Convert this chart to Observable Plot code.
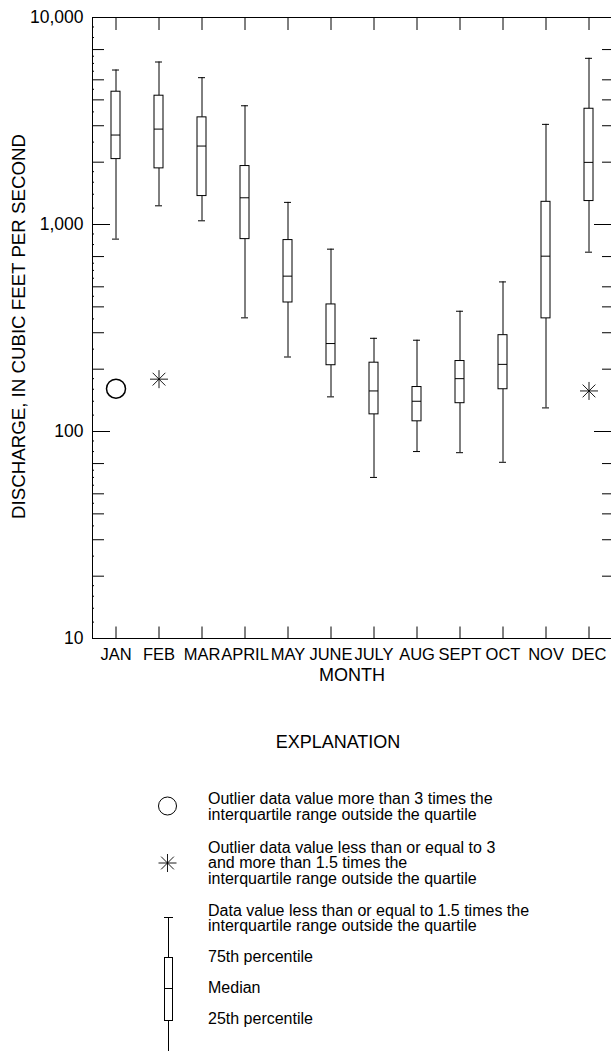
<!DOCTYPE html>
<html><head><meta charset="utf-8">
<script src="https://cdn.jsdelivr.net/npm/d3@7"></script>
<script src="https://cdn.jsdelivr.net/npm/@observablehq/plot@0.6"></script>
<style>
html,body{margin:0;padding:0;background:#fff;}
#chart svg,#legend svg{display:block}
</style></head><body><div id="chart"></div><div id="legend"></div><script>
const FONT = "'Liberation Sans', Arial, Helvetica, sans-serif";

// Monthly discharge statistics (cubic feet per second)
const months      = ["JAN","FEB","MAR","APRIL","MAY","JUNE","JULY","AUG","SEPT","OCT","NOV","DEC"];
const whiskerLow  = [850, 1231, 1042, 354, 229, 147,  60,  80,  79,  71, 130,  735];
const quartile1   = [2070,1867, 1372, 850, 420, 209, 121, 112, 137, 160, 352, 1298];
const medians     = [2705,2890, 2393,1346, 563, 266, 157, 140, 180, 211, 703, 1996];
const quartile3   = [4380,4190, 3293,1916, 841, 411, 215, 164, 219, 292,1287, 3624];
const whiskerHigh = [5575,6095, 5120,3746,1279, 760, 282, 276, 381, 528,3046, 6350];

// Outliers
const extremeMonths = ["JAN"];
const extremeValues = [161];
const mildMonths = ["FEB", "DEC"];
const mildValues = [179, 157];

// Axis ticks
const yMajorTicks = [10, 100, 1000, 10000];
const yMinorTicks = [20,30,40,50,70, 200,300,400,500,700, 2000,3000,4000,5000,7000];
const yTinyTicks = [12,14,16,18,25,35,45,55,60,65,80,90,
                    120,140,160,180,250,350,450,550,600,650,800,900,
                    1200,1400,1600,1800,2500,3500,4500,5500,6000,6500,8000,9000];

const data = months.map((m, i) => ({month: m, low: whiskerLow[i], q1: quartile1[i], median: medians[i], q3: quartile3[i], high: whiskerHigh[i]}));
const extreme = extremeMonths.map((m, i) => ({month: m, value: extremeValues[i]}));
const mild = mildMonths.map((m, i) => ({month: m, value: mildValues[i]}));

const star = {
  draw(ctx, size) {
    const r = Math.sqrt(size / Math.PI);
    for (let k = 0; k < 4; k++) {
      const a = k * Math.PI / 4, dx = r * Math.cos(a), dy = r * Math.sin(a);
      ctx.moveTo(-dx, -dy); ctx.lineTo(dx, dy);
    }
  }
};

const chart = Plot.plot({
  width: 611, height: 700,
  marginLeft: 92, marginRight: 0, marginTop: 17, marginBottom: 62,
  style: {fontFamily: FONT, fontSize: "16px", color: "black", background: "white"},
  x: {type: "band", domain: months, range: [92, 612], padding: 0},
  y: {type: "log", domain: [10, 10000]},
  marks: [
    Plot.axisY(yMajorTicks, {anchor: "left", tickSize: -18, fill: "none", label: null}),
    Plot.axisY(yMinorTicks, {anchor: "left", tickSize: -12, fill: "none", label: null}),
    Plot.axisY(yTinyTicks, {anchor: "left", tickSize: -2, fill: "none", label: null}),
    Plot.axisY(yMajorTicks, {anchor: "left", tickSize: 0, tickPadding: 9, tickFormat: d3.format(","), fontSize: 17.5, label: null}),
    Plot.axisY(yMajorTicks, {anchor: "right", tickSize: -18, fill: "none", label: null}),
    Plot.axisY(yMinorTicks, {anchor: "right", tickSize: -10, fill: "none", label: null}),
    Plot.axisX({anchor: "top", tickSize: -12, fill: "none", label: null}),
    Plot.axisX({anchor: "bottom", tickSize: -11.5, fill: "none", label: null}),
    Plot.axisX({anchor: "bottom", tickSize: 0, tickPadding: 9.5, fontSize: 16.5, label: null}),
    Plot.frame({anchor: "left"}),
    Plot.frame({anchor: "top"}),
    Plot.frame({anchor: "bottom"}),
    Plot.text(["MONTH"], {frameAnchor: "bottom", lineAnchor: "middle", textAnchor: "middle", dy: 37, fontSize: 18}),
    Plot.text(["DISCHARGE, IN CUBIC FEET PER SECOND"], {frameAnchor: "left", textAnchor: "middle", lineAnchor: "middle", rotate: -90, dx: -73, dy: -1.5, fontSize: 18.7}),
    Plot.ruleX(data, {x: "month", y1: "low", y2: "q1", stroke: "black"}),
    Plot.ruleX(data, {x: "month", y1: "q3", y2: "high", stroke: "black"}),
    Plot.tickY(data, {x: "month", y: "low", inset: 18, stroke: "black"}),
    Plot.tickY(data, {x: "month", y: "high", inset: 18, stroke: "black"}),
    Plot.barY(data, {x: "month", y1: "q1", y2: "q3", insetLeft: 17, insetRight: 17, fill: "white", stroke: "black"}),
    Plot.tickY(data, {x: "month", y: "median", inset: 17, stroke: "black"}),
    Plot.dot(extreme, {x: "month", y: "value", r: 9.5, fill: "none", stroke: "black"}),
    Plot.dot(mild, {x: "month", y: "value", r: 9, symbol: star, fill: "none", stroke: "black", strokeWidth: 0.9})
  ]
});
document.getElementById("chart").append(chart);

// Explanation (legend)
const OFF = 700;
const leg = d3.create("svg").attr("width", 611).attr("height", 351)
  .style("font-family", FONT).style("background", "white");
leg.append("text").attr("x", 338).attr("y", 748 - OFF).attr("text-anchor", "middle")
  .attr("font-size", 18).text("EXPLANATION");
const lines = [
  [804, "Outlier data value more than 3 times the"],
  [820, "interquartile range outside the quartile"],
  [853, "Outlier data value less than or equal to 3"],
  [868, "and more than 1.5 times the"],
  [884, "interquartile range outside the quartile"],
  [916, "Data value less than or equal to 1.5 times the"],
  [931, "interquartile range outside the quartile"],
  [962, "75th percentile"],
  [993, "Median"],
  [1024, "25th percentile"]
];
leg.selectAll("text.l").data(lines).join("text").attr("class", "l")
  .attr("x", 208).attr("y", d => d[0] - OFF).attr("font-size", 16).text(d => d[1]);
leg.append("circle").attr("cx", 167.5).attr("cy", 806 - OFF).attr("r", 9)
  .attr("fill", "none").attr("stroke", "black");
const sg = leg.append("g").attr("transform", `translate(167.5,${863 - OFF})`);
for (let k = 0; k < 4; k++) {
  const a = k * Math.PI / 4, dx = 9 * Math.cos(a), dy = 9 * Math.sin(a);
  sg.append("line").attr("x1", -dx).attr("y1", -dy).attr("x2", dx).attr("y2", dy).attr("stroke", "black").attr("stroke-width", 0.9);
}
const bx = 168.5;
leg.append("line").attr("x1", bx).attr("x2", bx).attr("y1", 917 - OFF).attr("y2", 351).attr("stroke", "black");
leg.append("line").attr("x1", bx - 4.5).attr("x2", bx + 4.5).attr("y1", 917.5 - OFF).attr("y2", 917.5 - OFF).attr("stroke", "black");
leg.append("rect").attr("x", bx - 4).attr("y", 957.5 - OFF).attr("width", 8).attr("height", 63)
  .attr("fill", "white").attr("stroke", "black");
leg.append("line").attr("x1", bx - 4).attr("x2", bx + 4).attr("y1", 988.5 - OFF).attr("y2", 988.5 - OFF).attr("stroke", "black");
document.getElementById("legend").append(leg.node());
</script></body></html>
